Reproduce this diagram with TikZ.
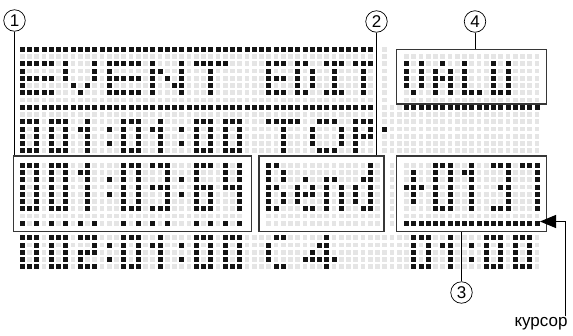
\documentclass[tikz,border=0pt]{standalone}
\usepackage{fontspec}
\setmainfont{Liberation Sans}
\usetikzlibrary{arrows.meta}
\definecolor{lcdoff}{RGB}{229,229,229}
\definecolor{lcdon}{RGB}{20,20,20}
\definecolor{framegray}{RGB}{55,55,55}
\tikzset{
  offdot/.style={fill=lcdoff},
  ondot/.style={fill=lcdon},
  field/.style={draw=framegray, line width=1.3pt, rectangle, inner sep=0pt, anchor=north west},
  callout/.style={draw, circle, line width=0.7pt, inner sep=0pt, minimum size=21.5pt, font=\fontsize{17}{17}\selectfont},
  leader/.style={line width=0.8pt},
  pointer/.style={-{Triangle[length=16pt,width=13pt]}, line width=1pt}
}
% grid of the dot display: column c at x = 22.3+7.25c, row r at y = 49.3+7.25r
\newcommand{\dotblock}[5]{\foreach \ry in {#1,...,#2}{\foreach \cx in {#3,...,#4}{\fill[#5] ({22.3+7.25*\cx-2.4},{49.3+7.25*\ry-2.4}) rectangle ++(4.8,4.8);}}}
\newcommand{\litrow}[2]{\foreach \cx in {#2}{\fill[ondot] ({22.3+7.25*\cx-2.5},{49.3+7.25*#1-2.5}) rectangle ++(5,5);}}

\begin{document}
\begin{tikzpicture}[x=1pt,y=-1pt]
    \fill[white] (0,0) rectangle (573,335);
    \useasboundingbox (0,0) rectangle (573,335);

    % unlit dots
    \dotblock{0}{0}{50}{50}{offdot}
    \dotblock{1}{7}{0}{48}{offdot}
    \dotblock{1}{7}{50}{50}{offdot}
    \dotblock{1}{7}{53}{71}{offdot}
    \dotblock{8}{14}{0}{48}{offdot}
    \dotblock{8}{14}{50}{71}{offdot}
    \dotblock{16}{24}{0}{30}{offdot}
    \dotblock{16}{24}{34}{49}{offdot}
    \dotblock{16}{24}{51}{51}{offdot}
    \dotblock{16}{24}{53}{71}{offdot}
    \dotblock{26}{30}{0}{71}{offdot}

    % EVENT EDIT / VALU
    \litrow{0}{0,...,48}
    \litrow{2}{0,1,2,3,4,6,10,12,13,14,15,16,18,22,24,25,26,27,28,34,35,36,38,39,42,43,44,46,47,48,53,55,58,61,65,67}
    \litrow{3}{0,6,10,12,18,19,22,26,34,38,40,43,47,53,55,57,59,61,65,67}
    \litrow{4}{0,1,2,3,4,6,10,12,13,14,15,16,18,20,22,26,34,35,36,38,40,43,47,53,55,57,58,59,61,65,67}
    \litrow{5}{0,7,9,12,18,21,22,26,34,38,40,43,47,53,55,57,59,61,65,67}
    \litrow{6}{0,1,2,3,4,8,12,13,14,15,16,18,22,26,34,35,36,38,39,42,43,44,47,54,57,59,61,62,63,65,66,67}
    \litrow{8}{0,...,48}
    \litrow{8}{53,...,71}

    % 001:01:00 TOP
    \litrow{10}{0,1,2,4,5,6,9,14,15,16,19,24,25,26,28,29,30,34,35,36,37,38,41,42,43,46,47,48}
    \litrow{11}{0,2,4,6,8,9,12,14,16,18,19,22,24,26,28,30,36,40,44,46,48,50}
    \litrow{12}{0,2,4,6,9,14,16,19,24,26,28,30,36,40,44,46,47,48}
    \litrow{13}{0,2,4,6,9,12,14,16,19,22,24,26,28,30,36,40,44,46}
    \litrow{14}{0,1,2,4,5,6,9,14,15,16,19,24,25,26,28,29,30,36,41,42,43,46}

    % 001:03:64  Bend  +0137
    \litrow{16}{0,1,2,4,5,6,9,14,15,16,18,19,20,24,25,26,28,30,34,35,48,57,58,59,62,65,66,67,69,70,71}
    \litrow{17}{0,2,4,6,8,9,14,16,20,24,28,30,34,36,48,54,57,59,61,62,67,71}
    \litrow{18}{0,2,4,6,9,12,14,16,20,22,24,28,30,34,36,39,42,43,47,48,54,57,59,62,67,71}
    \litrow{19}{0,2,4,6,9,14,16,18,19,20,24,25,26,28,29,30,34,35,38,40,42,44,46,48,53,54,55,57,59,62,66,67,71}
    \litrow{20}{0,2,4,6,9,12,14,16,20,22,24,26,30,34,36,38,39,40,42,44,46,48,54,57,59,62,67,71}
    \litrow{21}{0,2,4,6,9,14,16,20,24,26,30,34,36,38,42,44,46,48,54,57,59,62,67,71}
    \litrow{22}{0,1,2,4,5,6,9,14,15,16,18,19,20,24,25,26,30,34,35,39,40,42,44,47,48,57,58,59,62,65,66,67,71}
    \litrow{24}{0,2,4,6,8,10,14,16,18,20,24,26,28,30}
    \litrow{24}{53,...,71}

    % 002:01:00 C4 01:00
    \litrow{26}{0,1,2,4,5,6,8,9,10,14,15,16,19,24,25,26,28,29,30,35,36,42,54,55,56,59,64,65,66,68,69,70}
    \litrow{27}{0,2,4,6,10,12,14,16,18,19,22,24,26,28,30,34,41,42,54,56,58,59,62,64,66,68,70}
    \litrow{28}{0,2,4,6,8,9,10,14,16,19,24,26,28,30,34,40,42,54,56,59,64,66,68,70}
    \litrow{29}{0,2,4,6,8,12,14,16,19,22,24,26,28,30,34,39,40,41,42,43,54,56,59,62,64,66,68,70}
    \litrow{30}{0,1,2,4,5,6,8,9,10,14,15,16,19,24,25,26,28,29,30,35,36,42,54,55,56,59,64,65,66,68,69,70}

    % frames
    \node[field, minimum width=149.7pt, minimum height=54.3pt] (valbox) at (396,49) {};
    \node[field, minimum width=238.3pt, minimum height=75.5pt] (timebox) at (12.7,155.2) {};
    \node[field, minimum width=125pt, minimum height=75.5pt] (typebox) at (258.3,155.2) {};
    \node[field, minimum width=149.7pt, minimum height=75.5pt] (databox) at (396,155.2) {};

    % callouts
    \node[callout] (num1) at (14.5,20.5) {1};
    \node[callout] (num2) at (376.5,21.5) {2};
    \node[callout] (num4) at (475,21.5) {4};
    \node[callout] (num3) at (461.5,292.5) {3};
    \draw[leader] (num1) -- (num1 |- timebox.north);
    \draw[leader] (num2) -- (num2 |- typebox.north);
    \draw[leader] (num4) -- (num4 |- valbox.north);
    \draw[leader] (num3) -- (num3 |- databox.south);

    % cursor
    \node[font=\fontsize{17}{18}\selectfont, inner sep=1pt] (curs) at (541,324) {курсор};
    \coordinate (cursbend) at (565,221.5);
    \coordinate (curstip) at (540,221.5);
    \draw[pointer] (curs.north -| cursbend) -- (cursbend) -- (curstip);
\end{tikzpicture}
\end{document}
